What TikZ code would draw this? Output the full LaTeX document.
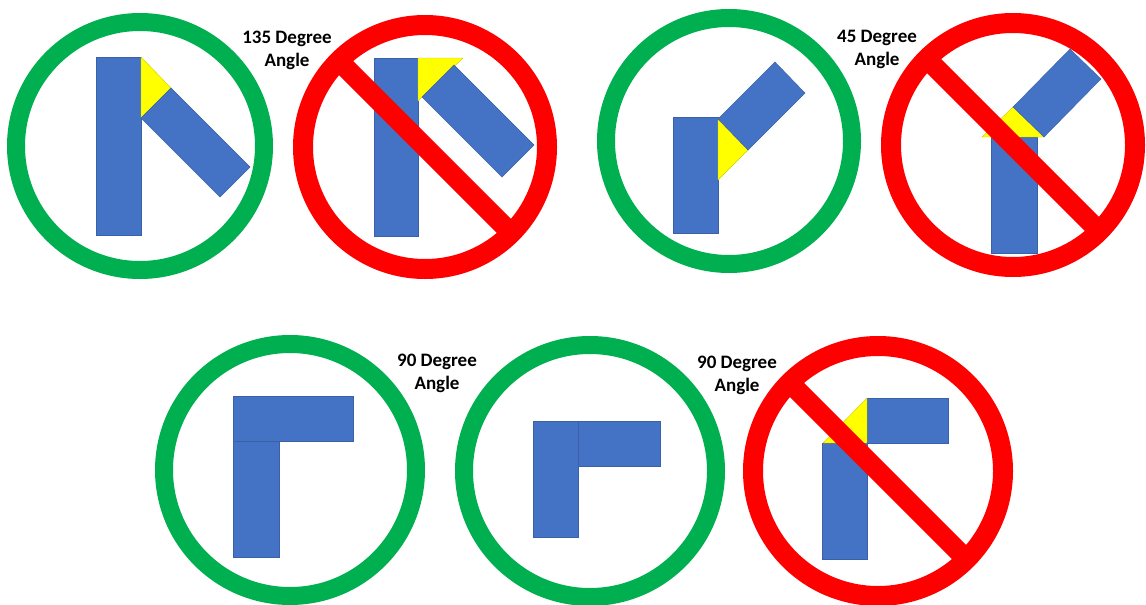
\documentclass[tikz,border=0pt]{standalone}
\usepackage{fontspec}
\setmainfont{Carlito}
\usepackage{xcolor}
\usepackage{tikz}

\definecolor{okgreen}{HTML}{00B050}
\definecolor{nored}{HTML}{FF0000}
\definecolor{barblue}{HTML}{4472C4}
\definecolor{wedgeyellow}{HTML}{FFFF00}

\begin{document}
\begin{tikzpicture}[x=1pt, y=-1pt,
    okring/.style={draw=okgreen, line width=18pt},
    noring/.style={draw=nored, line width=20pt},
    slash/.style={draw=nored, line width=20pt},
    bar/.style={fill=barblue, draw=barblue!85!black, line width=0.4pt},
    wedge/.style={fill=wedgeyellow, draw=wedgeyellow!80!black, line width=0.4pt},
    lbl/.style={align=center, font=\bfseries\fontsize{19}{23}\selectfont, inner sep=0pt}]
  \useasboundingbox (0,0) rectangle (1146,605);

  % 135 degree, right way
  \draw[bar] (96,57) rectangle (141,235);
  \draw[wedge] (141,57) -- (171,88) -- (141,118) -- cycle;
  \draw[bar] (171,88) -- (250,167) -- (220,197) -- (141,118) -- cycle;

  % 135 degree, wrong way
  \draw[bar] (374,58) rectangle (418,236);
  \draw[wedge] (418,58) -- (463,58) -- (418,101) -- cycle;
  \draw[bar] (454,65) -- (534,145) -- (502,177) -- (422,97) -- cycle;

  % 45 degree, right way
  \draw[bar] (673,117) rectangle (718,233);
  \draw[wedge] (718,119) -- (748,150) -- (718,180) -- cycle;
  \draw[bar] (718,119) -- (775,62) -- (805,93) -- (748,150) -- cycle;

  % 45 degree, wrong way
  \draw[bar] (991,137) rectangle (1037,253);
  \draw[wedge] (982,137) -- (1013,107) -- (1044,137) -- cycle;
  \draw[bar] (1013,107) -- (1070,49) -- (1101,79) -- (1044,137) -- cycle;

  % 90 degree, both right ways
  \draw[bar] (233,396) rectangle (353,441);
  \draw[bar] (233,441) rectangle (279,557);
  \draw[bar] (533,421) rectangle (578,537);
  \draw[bar] (578,421) rectangle (660,466);

  % 90 degree, wrong way
  \draw[bar] (822,443) rectangle (867,559);
  \draw[bar] (867,398) rectangle (948,443);
  \draw[wedge] (867,398) -- (867,443) -- (823,443) -- cycle;

  % rings
  \foreach \cx/\cy/\r in {140/146/124, 729/141/123, 290/470/126, 590/471/126}
    \draw[okring] (\cx,\cy) circle (\r);
  \foreach \cx/\cy/\r in {425/147/122, 1013/145/122, 878/471/125} {
    \draw[noring] (\cx,\cy) circle (\r);
    \draw[slash] (\cx-0.7071*\r,\cy-0.7071*\r) -- (\cx+0.7071*\r,\cy+0.7071*\r);
  }

  % labels
  \node[lbl] (obtuse) at (287,50) {135 Degree\\Angle};
  \node[lbl] (acute) at (877,49) {45 Degree\\Angle};
  \node[lbl] (rightA) at (437,373) {90 Degree\\Angle};
  \node[lbl] (rightB) at (737,375) {90 Degree\\Angle};
\end{tikzpicture}
\end{document}
